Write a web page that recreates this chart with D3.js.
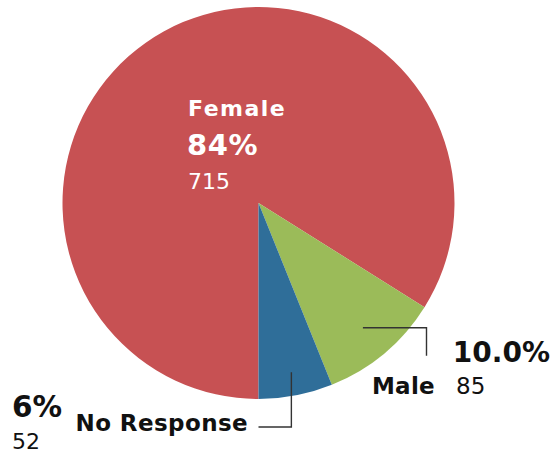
<!DOCTYPE html>
<html><head><meta charset="utf-8">
<script src="https://cdn.jsdelivr.net/npm/d3@7"></script>
<style>body{margin:0;background:#fff;} svg{display:block;}</style>
</head><body>
<svg id="c" width="553" height="455"></svg>
<script>
const categories = ["Female", "Male", "No Response"];
const counts = [715, 85, 52];
const percentLabels = ["84%", "10.0%", "6%"];
const colors = ["#C75153", "#9BBB59", "#2F6E99"];

const W = 553, H = 455, cx = 258.5, cy = 203, R = 196;
const svg = d3.select("#c");
const g = svg.append("g").attr("transform", `translate(${cx},${cy})`);

const pie = d3.pie().sort(null).value(d => d).startAngle(Math.PI).endAngle(3 * Math.PI);
const arcs = pie(counts);
const arc = d3.arc().innerRadius(0).outerRadius(R);

g.selectAll("path.slice").data(arcs).enter().append("path")
  .attr("class", "slice")
  .attr("d", arc)
  .attr("fill", (d, i) => colors[i]);

const polar = (a, r) => [r * Math.sin(a), -r * Math.cos(a)];
const mid = d => (d.startAngle + d.endAngle) / 2;

// Male leader
{
  const d = arcs[1];
  const p0 = polar(mid(d), R * 0.83);
  const x1 = 168, y1 = p0[1] + 28;
  g.append("path").attr("d", `M${p0[0]},${p0[1]}H${x1}V${y1}`)
    .attr("fill", "none").attr("stroke", "#333").attr("stroke-width", 1.4);
}
// No Response leader
{
  const d = arcs[2];
  const p0 = polar(mid(d), R * 0.88);
  g.append("path").attr("d", `M${p0[0]},${p0[1]}V${224}H${0}`)
    .attr("fill", "none").attr("stroke", "#333").attr("stroke-width", 1.4);
}

const font = "'DejaVu Sans', sans-serif";
function txt(x, y, s, size, weight, fill, anchor, ls) {
  svg.append("text").attr("x", x).attr("y", y).text(s)
    .attr("font-family", font).attr("font-size", size)
    .attr("font-weight", weight).attr("fill", fill)
    .attr("letter-spacing", ls || 0)
    .attr("text-anchor", anchor || "start");
}
// Female
txt(188, 116, categories[0], 22, "bold", "#fff", "start", 1.5);
txt(187, 155, percentLabels[0], 29, "bold", "#fff", "start", 0.6);
txt(188, 189, String(counts[0]), 22, "normal", "#fff");
// Male
txt(550, 362, percentLabels[1], 28, "bold", "#111", "end");
txt(435, 394, categories[1], 23, "bold", "#111", "end", 0.3);
txt(456, 394, String(counts[1]), 23, "normal", "#111");
// No Response
txt(12, 417, percentLabels[2], 29.5, "bold", "#111");
txt(12, 449, String(counts[2]), 22, "normal", "#111");
txt(248, 431, categories[2], 23, "bold", "#111", "end", 0.4);
</script>
</body></html>
